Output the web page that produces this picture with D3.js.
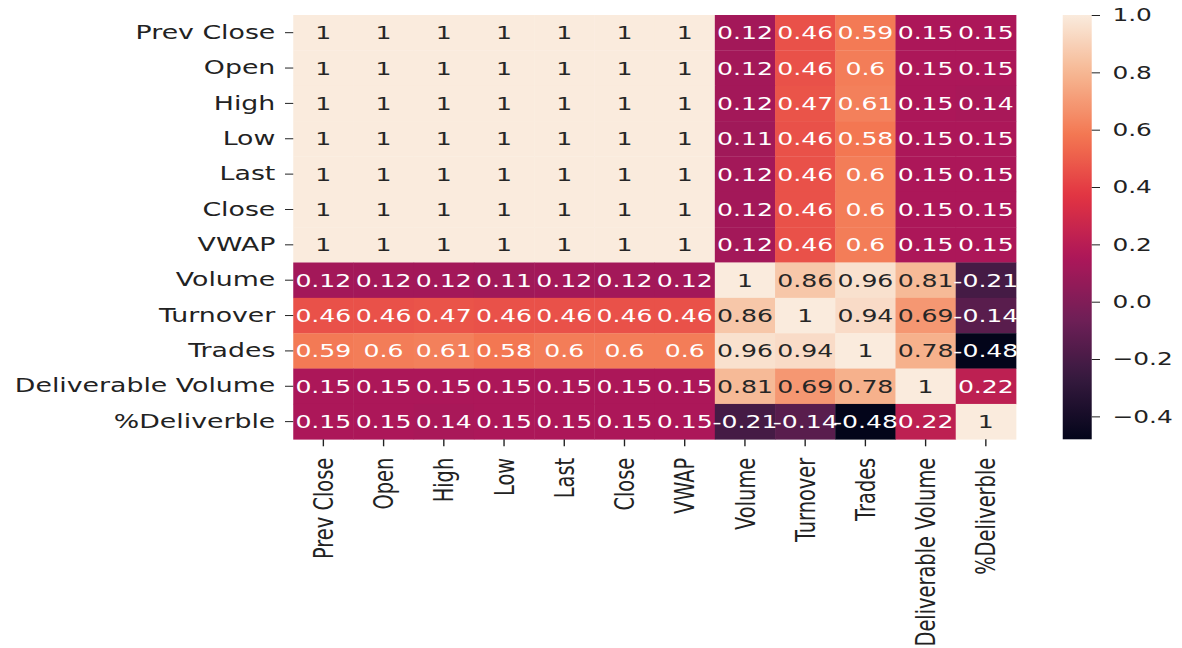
<!DOCTYPE html>
<html>
<head>
<meta charset="utf-8">
<script src="https://cdn.jsdelivr.net/npm/d3@7"></script>
<style>
  html, body { margin: 0; padding: 0; background: #fff; }
  svg { display: block; }
  text { font-family: "DejaVu Sans", sans-serif; }
</style>
</head>
<body>
<svg id="chart"></svg>
<script>
// Correlation matrix of NSE daily stock columns
const labels = ["Prev Close", "Open", "High", "Low", "Last", "Close", "VWAP",
  "Volume", "Turnover", "Trades", "Deliverable Volume", "%Deliverble"];

const rowPrevClose = [1, 1, 1, 1, 1, 1, 1, 0.12, 0.46, 0.59, 0.15, 0.15];
const rowOpen      = [1, 1, 1, 1, 1, 1, 1, 0.12, 0.46, 0.6, 0.15, 0.15];
const rowHigh      = [1, 1, 1, 1, 1, 1, 1, 0.12, 0.47, 0.61, 0.15, 0.14];
const rowLow       = [1, 1, 1, 1, 1, 1, 1, 0.11, 0.46, 0.58, 0.15, 0.15];
const rowLast      = [1, 1, 1, 1, 1, 1, 1, 0.12, 0.46, 0.6, 0.15, 0.15];
const rowClose     = [1, 1, 1, 1, 1, 1, 1, 0.12, 0.46, 0.6, 0.15, 0.15];
const rowVWAP      = [1, 1, 1, 1, 1, 1, 1, 0.12, 0.46, 0.6, 0.15, 0.15];
const rowVolume    = [0.12, 0.12, 0.12, 0.11, 0.12, 0.12, 0.12, 1, 0.86, 0.96, 0.81, -0.21];
const rowTurnover  = [0.46, 0.46, 0.47, 0.46, 0.46, 0.46, 0.46, 0.86, 1, 0.94, 0.69, -0.14];
const rowTrades    = [0.59, 0.6, 0.61, 0.58, 0.6, 0.6, 0.6, 0.96, 0.94, 1, 0.78, -0.48];
const rowDelivVol  = [0.15, 0.15, 0.15, 0.15, 0.15, 0.15, 0.15, 0.81, 0.69, 0.78, 1, 0.22];
const rowPctDeliv  = [0.15, 0.15, 0.14, 0.15, 0.15, 0.15, 0.15, -0.21, -0.14, -0.48, 0.22, 1];

const matrix = [rowPrevClose, rowOpen, rowHigh, rowLow, rowLast, rowClose, rowVWAP,
  rowVolume, rowTurnover, rowTrades, rowDelivVol, rowPctDeliv];

const colorbarTicks = [-0.4, -0.2, 0.0, 0.2, 0.4, 0.6, 0.8, 1.0];

// "rocket" colormap anchor colours
const rocketPos = [0, 1/7, 2/7, 3/7, 4/7, 5/7, 6/7, 1];
const rocketCol = ["#03051a", "#35193e", "#701f57", "#ad1759", "#e13342", "#f37651", "#f6b48f", "#faebdd"];

// Figure is drawn in a narrower coordinate system and stretched horizontally
const W = 1182, H = 648, SX = 1.38;
const VW = W / SX;

const svg = d3.select("#chart")
  .attr("width", W).attr("height", H)
  .attr("viewBox", `0 0 ${VW} ${H}`)
  .attr("preserveAspectRatio", "none");

const plotL = 212.5, plotR = 736.2, plotT = 15, plotB = 439.3;
const cbLeft = 770.1, cbWidth = 21;

const x = d3.scaleBand().domain(labels).range([plotL, plotR]);
const y = d3.scaleBand().domain(labels).range([plotT, plotB]);

const flat = matrix.flat();
const [vmin, vmax] = d3.extent(flat);
const color = d3.scaleLinear()
  .domain(rocketPos.map(t => vmin + t * (vmax - vmin)))
  .range(rocketCol)
  .interpolate(d3.interpolateRgb)
  .clamp(true);

function lum(c) {
  const rgb = d3.rgb(c);
  const f = v => { v /= 255; return v <= 0.03928 ? v / 12.92 : Math.pow((v + 0.055) / 1.055, 2.4); };
  return 0.2126 * f(rgb.r) + 0.7152 * f(rgb.g) + 0.0722 * f(rgb.b);
}

const cells = [];
matrix.forEach((row, i) => row.forEach((v, j) => cells.push({ r: labels[i], c: labels[j], v })));

const g = svg.append("g");
g.selectAll("rect.cell").data(cells).join("rect")
  .attr("class", "cell")
  .attr("x", d => x(d.c))
  .attr("y", d => y(d.r))
  .attr("width", x.bandwidth() + 0.3)
  .attr("height", y.bandwidth() + 0.3)
  .attr("fill", d => color(d.v));

g.selectAll("text.annot").data(cells).join("text")
  .attr("class", "annot")
  .attr("x", d => x(d.c) + x.bandwidth() / 2)
  .attr("y", d => y(d.r) + y.bandwidth() / 2)
  .attr("text-anchor", "middle")
  .attr("dy", "0.36em")
  .attr("font-size", 18.2)
  .attr("fill", d => lum(color(d.v)) > 0.408 ? "#262626" : "#ffffff")
  .text(d => String(d.v));

// Axes
const yAxis = svg.append("g")
  .attr("transform", `translate(${plotL},0)`)
  .call(d3.axisLeft(y).tickSize(6).tickPadding(7));
yAxis.select(".domain").remove();
yAxis.selectAll("text").attr("font-size", 19.4).attr("fill", "#222")
  .style("font-family", "DejaVu Sans, sans-serif");
yAxis.selectAll("line").attr("stroke", "#222");

const xAxis = svg.append("g")
  .attr("transform", `translate(0,${plotB})`)
  .call(d3.axisBottom(x).tickSize(7));
xAxis.select(".domain").remove();
xAxis.selectAll("line").attr("stroke", "#222");
xAxis.selectAll("text")
  .attr("font-size", 19.4).attr("fill", "#222")
  .style("font-family", "DejaVu Sans, sans-serif")
  .attr("transform", "rotate(-90)")
  .attr("text-anchor", "end")
  .attr("x", -18.5)
  .attr("y", 0)
  .attr("dy", "0.36em");

// Colorbar
const cbScale = d3.scaleLinear().domain([vmin, vmax]).range([plotB, plotT]);
const defs = svg.append("defs");
const grad = defs.append("linearGradient").attr("id", "cbgrad")
  .attr("x1", 0).attr("y1", 1).attr("x2", 0).attr("y2", 0);
d3.range(0, 1.0001, 0.02).forEach(t => {
  grad.append("stop").attr("offset", t).attr("stop-color", color(vmin + t * (vmax - vmin)));
});
svg.append("rect")
  .attr("x", cbLeft).attr("y", plotT)
  .attr("width", cbWidth).attr("height", plotB - plotT)
  .attr("fill", "url(#cbgrad)");

const cbAxis = svg.append("g")
  .attr("transform", `translate(${cbLeft + cbWidth},0)`)
  .call(d3.axisRight(cbScale).tickValues(colorbarTicks).tickFormat(d3.format(".1f")).tickSize(6).tickPadding(9));
cbAxis.select(".domain").remove();
cbAxis.selectAll("line").attr("stroke", "#222");
cbAxis.selectAll("text").attr("font-size", 18).attr("fill", "#222")
  .style("font-family", "DejaVu Sans, sans-serif");
</script>
</body>
</html>
